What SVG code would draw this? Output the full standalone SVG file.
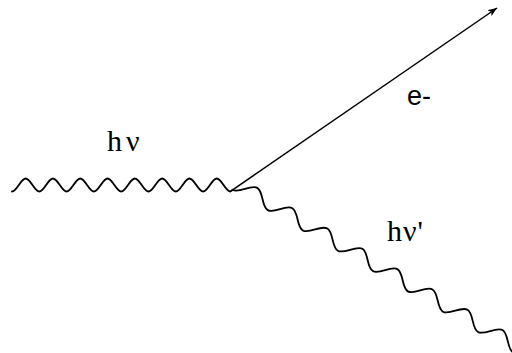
<svg xmlns="http://www.w3.org/2000/svg" width="512" height="353" viewBox="0 0 512 353">
  <style>
    .wave { fill: none; stroke: #000; stroke-width: 1.8; stroke-linejoin: round; stroke-linecap: round; }
    .line { fill: none; stroke: #000; stroke-width: 1.5; }
    .serif { font-family: "Liberation Serif", "Times New Roman", serif; font-size: 30px; fill: #000; }
    .sans { font-family: "Liberation Sans", Arial, sans-serif; font-size: 27px; fill: #000; }
  </style>
  <defs>
    <marker id="arrow" markerUnits="userSpaceOnUse" markerWidth="10" markerHeight="8" refX="9" refY="4" orient="auto">
      <path d="M0,0.5 L9,4 L0,7.5 L2,4 z" fill="#000"/>
    </marker>
  </defs>
  <rect width="512" height="353" fill="#fff"/>
  <g id="connectors">
    <path id="photon-in" class="wave" d="M 12 191.5 c 2.47 0 4.599 -3.17 6.825 -6.5 s 4.355 -6.5 6.825 -6.5 s 4.599 3.17 6.825 6.5 s 4.355 6.5 6.825 6.5
      s 4.599 -3.17 6.825 -6.5 s 4.355 -6.5 6.825 -6.5 s 4.599 3.17 6.825 6.5 s 4.355 6.5 6.825 6.5
      s 4.599 -3.17 6.825 -6.5 s 4.355 -6.5 6.825 -6.5 s 4.599 3.17 6.825 6.5 s 4.355 6.5 6.825 6.5
      s 4.599 -3.17 6.825 -6.5 s 4.355 -6.5 6.825 -6.5 s 4.599 3.17 6.825 6.5 s 4.355 6.5 6.825 6.5
      s 4.599 -3.17 6.825 -6.5 s 4.355 -6.5 6.825 -6.5 s 4.599 3.17 6.825 6.5 s 4.355 6.5 6.825 6.5
      s 4.599 -3.17 6.825 -6.5 s 4.355 -6.5 6.825 -6.5 s 4.599 3.17 6.825 6.5 s 4.355 6.5 6.825 6.5
      s 4.599 -3.17 6.825 -6.5 s 4.355 -6.5 6.825 -6.5 s 4.599 3.17 6.825 6.5 s 4.355 6.5 6.825 6.5
      s 4.599 -3.17 6.825 -6.5 s 4.355 -6.5 6.825 -6.5 s 4.599 3.17 6.825 6.5 s 4.355 6.5 6.825 6.5
      L 232.7 189.8"/>
    <path id="electron" class="line" d="M 232.7 189.8 L 497 8" marker-end="url(#arrow)"/>
    <path id="photon-out" class="wave" transform="translate(262.5,199) rotate(30.1)" d="M -30.375 7 c 3.664 0 6.823 -3.414 10.125 -7
      s 6.461 -7 10.125 -7 s 6.823 3.414 10.125 7 s 6.461 7 10.125 7 s 6.823 -3.414 10.125 -7
      s 6.461 -7 10.125 -7 s 6.823 3.414 10.125 7 s 6.461 7 10.125 7 s 6.823 -3.414 10.125 -7
      s 6.461 -7 10.125 -7 s 6.823 3.414 10.125 7 s 6.461 7 10.125 7 s 6.823 -3.414 10.125 -7
      s 6.461 -7 10.125 -7 s 6.823 3.414 10.125 7 s 6.461 7 10.125 7 s 6.823 -3.414 10.125 -7
      s 6.461 -7 10.125 -7 s 6.823 3.414 10.125 7 s 6.461 7 10.125 7 s 6.823 -3.414 10.125 -7
      s 6.461 -7 10.125 -7 s 6.823 3.414 10.125 7 s 6.461 7 10.125 7 s 6.823 -3.414 10.125 -7
      s 6.461 -7 10.125 -7 s 6.823 3.414 10.125 7 s 6.461 7 10.125 7 s 6.823 -3.414 10.125 -7
      s 6.461 -7 10.125 -7 s 6.823 3.414 10.125 7 s 6.461 7 10.125 7"/>
  </g>
  <g id="label-hv">
    <text class="serif" x="107" y="151" letter-spacing="4">hν</text>
  </g>
  <g id="label-e">
    <text class="sans" x="407" y="105">e-</text>
  </g>
  <g id="label-hv-prime">
    <text class="serif" x="387" y="241" letter-spacing="1">hν'</text>
  </g>
</svg>
